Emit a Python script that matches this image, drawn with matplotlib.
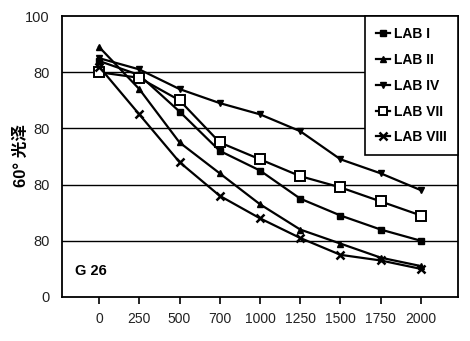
import matplotlib
matplotlib.use("Agg")
import matplotlib.pyplot as plt

plt.rcParams['font.family'] = ['Liberation Sans', 'Noto Sans CJK SC', 'DejaVu Sans']

# Test cycles (categorical x axis)
cycles = ['0', '250', '500', '700', '1000', '1250', '1500', '1750', '2000']

# 60° gloss values per laboratory
lab_i = [84, 79, 66, 52, 45, 35, 29, 24, 20]
lab_ii = [89, 74, 55, 44, 33, 24, 19, 14, 11]
lab_iv = [85, 81, 74, 69, 65, 59, 49, 44, 38]
lab_vii = [80, 78, 70, 55, 49, 43, 39, 34, 29]
lab_viii = [82, 65, 48, 36, 28, 21, 15, 13, 10]

series_names = ['LAB I', 'LAB II', 'LAB IV', 'LAB VII', 'LAB VIII']

y_ticks = [0, 20, 40, 60, 80, 100]
y_tick_labels = ['0', '80', '80', '80', '80', '100']

fig = plt.figure(figsize=(4.70, 3.41), dpi=100)
ax = fig.add_axes([62 / 470, 44 / 341, 396 / 470, 281 / 341])

x = list(range(len(cycles)))
styles = [
    dict(marker='s', markersize=4.5, markerfacecolor='black'),
    dict(marker='^', markersize=5, markerfacecolor='black'),
    dict(marker='v', markersize=5, markerfacecolor='black'),
    dict(marker='s', markersize=7, markerfacecolor='white', markeredgewidth=1.4),
    dict(marker='x', markersize=6, markeredgewidth=1.8),
]
for vals, name, st in zip([lab_i, lab_ii, lab_iv, lab_vii, lab_viii], series_names, styles):
    ax.plot(x, vals, color='black', linewidth=1.6, markeredgecolor='black',
            label=name, zorder=3, **st)

ax.set_xlim(-0.92, 8.92)
ax.set_ylim(0, 100)
ax.set_xticks(x)
ax.set_xticklabels(cycles, fontsize=10, color='#222222')
ax.set_yticks(y_ticks)
ax.set_yticklabels(y_tick_labels, fontsize=10.5, color='#222222')
ax.tick_params(axis='y', length=0, pad=9)
ax.tick_params(axis='x', length=5, width=1.2, direction='out', pad=6)

for yv in [20, 40, 60, 80]:
    ax.axhline(yv, color='black', linewidth=1.0, zorder=1)

for sp in ax.spines.values():
    sp.set_linewidth(1.3)
    sp.set_color('black')

ax.set_ylabel('60° 光泽', fontsize=12, fontweight='bold',
              family=['Liberation Sans', 'Noto Sans CJK SC'])
ax.yaxis.set_label_coords(-0.083, 0.505)

ax.text(0.033, 0.093, 'G 26', transform=ax.transAxes, fontsize=10.5,
        fontweight='bold', va='center', ha='left')

leg = ax.legend(loc='upper right', bbox_to_anchor=(1.0, 1.0), fancybox=False,
                frameon=True, edgecolor='black', framealpha=1.0,
                prop={'weight': 'bold', 'size': 10}, handlelength=1.0,
                handletextpad=0.3, labelspacing=0.85, borderpad=0.8,
                borderaxespad=0.0, markerscale=0.85)
leg.get_frame().set_linewidth(1.2)
leg.set_zorder(5)

fig.savefig('out.png', dpi=100)
